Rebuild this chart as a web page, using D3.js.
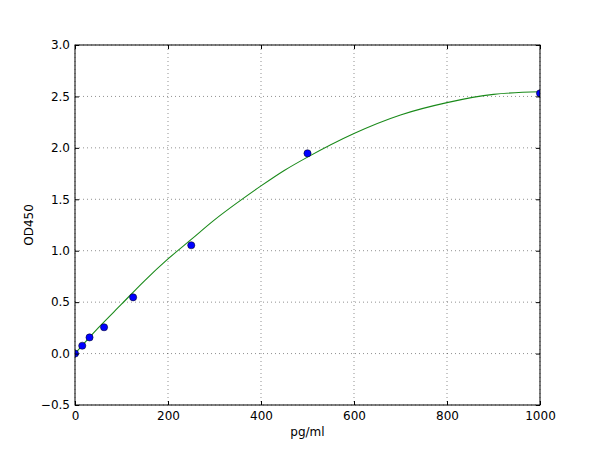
<!DOCTYPE html>
<html>
<head>
<meta charset="utf-8">
<script src="https://cdn.jsdelivr.net/npm/d3@7"></script>
<style>
  body { margin: 0; background: #fff; }
  text { font-family: "DejaVu Sans", sans-serif; }
</style>
</head>
<body>
<div id="chart"></div>
<script>
// standard points
var concValues = [0, 15.6, 31.25, 62.5, 125, 250, 500, 1000];
var odValues = [0.0, 0.076, 0.157, 0.256, 0.547, 1.053, 1.947, 2.53];

// fitted curve
var fitX = [0, 50, 100, 150, 200, 250, 300, 350, 400, 450, 500, 600, 700, 800, 900, 1000];
var fitY = [0.0, 0.25, 0.48, 0.71, 0.92, 1.11, 1.30, 1.47, 1.63, 1.78, 1.91, 2.14, 2.32, 2.44, 2.52, 2.545];

var xTicks = [0, 200, 400, 600, 800, 1000];
var yTicks = [-0.5, 0.0, 0.5, 1.0, 1.5, 2.0, 2.5, 3.0];

var svgWidth = 600;
var svgHeight = 450;
var margin = { top: 45, right: 60, bottom: 45, left: 75 };
var width = svgWidth - margin.left - margin.right;
var height = svgHeight - margin.top - margin.bottom;

var svg = d3.select("#chart")
  .append("svg")
  .attr("width", svgWidth)
  .attr("height", svgHeight);

var chartGroup = svg.append("g")
  .attr("transform", `translate(${margin.left}, ${margin.top})`);

var xScale = d3.scaleLinear().domain([0, 1000]).range([0, width]);
var yScale = d3.scaleLinear().domain([-0.5, 3.0]).range([height, 0]);

svg.append("defs").append("clipPath").attr("id", "clip")
  .append("rect").attr("width", width).attr("height", height);

// grid
chartGroup.append("g")
  .selectAll("line")
  .data(xTicks)
  .enter()
  .append("line")
  .attr("x1", d => xScale(d)).attr("x2", d => xScale(d))
  .attr("y1", 0).attr("y2", height)
  .attr("stroke", "#000").attr("stroke-opacity", 0.55)
  .attr("stroke-width", 0.8).attr("stroke-dasharray", "1,3");

chartGroup.append("g")
  .selectAll("line")
  .data(yTicks)
  .enter()
  .append("line")
  .attr("x1", 0).attr("x2", width)
  .attr("y1", d => yScale(d)).attr("y2", d => yScale(d))
  .attr("stroke", "#000").attr("stroke-opacity", 0.55)
  .attr("stroke-width", 0.8).attr("stroke-dasharray", "1,3");

// fit line
var line = d3.line()
  .x((d, i) => xScale(fitX[i]))
  .y(d => yScale(d))
  .curve(d3.curveMonotoneX);

chartGroup.append("path")
  .datum(fitY)
  .attr("clip-path", "url(#clip)")
  .attr("d", line)
  .attr("fill", "none")
  .attr("stroke", "#1a8a1a")
  .attr("stroke-width", 1.1);

// points
chartGroup.append("g")
  .attr("clip-path", "url(#clip)")
  .selectAll("circle")
  .data(concValues)
  .enter()
  .append("circle")
  .attr("cx", d => xScale(d))
  .attr("cy", (d, i) => yScale(odValues[i]))
  .attr("r", 3.6)
  .attr("fill", "#0000ff")
  .attr("stroke", "#000")
  .attr("stroke-width", 0.5);

// axes, ticks pointing inward on all sides
var fmtY = d => d3.format(".1f")(d).replace("-", "\u2212");
chartGroup.append("g")
  .attr("transform", `translate(0, ${height})`)
  .call(d3.axisBottom(xScale).tickValues(xTicks).tickSize(-4).tickPadding(6).tickFormat(d3.format("d")));
chartGroup.append("g")
  .call(d3.axisTop(xScale).tickValues(xTicks).tickSize(-4).tickFormat(""));
chartGroup.append("g")
  .call(d3.axisLeft(yScale).tickValues(yTicks).tickSize(-4).tickPadding(5).tickFormat(fmtY));
chartGroup.append("g")
  .attr("transform", `translate(${width}, 0)`)
  .call(d3.axisRight(yScale).tickValues(yTicks).tickSize(-4).tickFormat(""));

chartGroup.selectAll(".domain").remove();
chartGroup.selectAll(".tick line").attr("stroke", "#000").attr("stroke-width", 1);
chartGroup.selectAll(".tick text").attr("font-size", 12).attr("fill", "#000")
  .style("font-family", "DejaVu Sans");

chartGroup.append("rect")
  .attr("width", width).attr("height", height)
  .attr("fill", "none").attr("stroke", "#000").attr("stroke-width", 1);

// axis labels
chartGroup.append("text")
  .attr("transform", "rotate(-90)")
  .attr("x", -height / 2)
  .attr("y", -margin.left + 33)
  .attr("text-anchor", "middle")
  .attr("font-size", 12)
  .text("OD450");

chartGroup.append("text")
  .attr("x", width / 2)
  .attr("y", height + 31)
  .attr("text-anchor", "middle")
  .attr("font-size", 12)
  .text("pg/ml");
</script>
</body>
</html>
